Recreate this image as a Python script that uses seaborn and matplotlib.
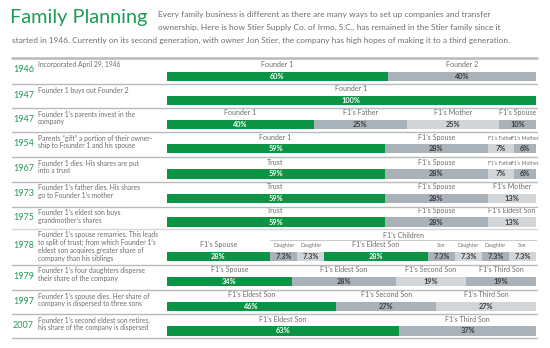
import matplotlib
matplotlib.use("Agg")
import matplotlib.pyplot as plt
import seaborn as sns
from matplotlib.lines import Line2D
from matplotlib.transforms import blended_transform_factory

# ---------------- data ----------------
years = ["1946", "1947", "1947", "1954", "1967", "1973", "1975", "1978", "1979", "1997", "2007"]
descriptions = [
    ["Incorporated April 29, 1946"],
    ["Founder 1 buys out Founder 2"],
    ["Founder 1’s parents invest in the", "company"],
    ["Parents “gift” a portion of their owner-", "ship to Founder 1 and his spouse"],
    ["Founder 1 dies. His shares are put", "into a trust"],
    ["Founder 1’s father dies. His shares", "go to Founder 1’s mother"],
    ["Founder 1’s eldest son buys", "grandmother’s shares"],
    ["Founder 1’s spouse remarries. This leads", "to split of trust; from which Founder 1’s",
     "eldest son acquires greater share of", "company than his siblings"],
    ["Founder 1’s four daughters disperse", "their share of the company"],
    ["Founder 1’s spouse dies. Her share of", "company is dispersed to three sons"],
    ["Founder 1’s second eldest son retires,", "his share of the company is dispersed"],
]
owners = [
    ["Founder 1", "Founder 2"],
    ["Founder 1"],
    ["Founder 1", "F1’s Father", "F1’s Mother", "F1’s Spouse"],
    ["Founder 1", "F1’s Spouse", "F1’s Father", "F1’s Mother"],
    ["Trust", "F1’s Spouse", "F1’s Father", "F1’s Mother"],
    ["Trust", "F1’s Spouse", "F1’s Mother"],
    ["Trust", "F1’s Spouse", "F1’s Eldest Son"],
    ["F1’s Spouse", "Daughter", "Daughter", "F1’s Eldest Son", "Son", "Daughter", "Daughter", "Son"],
    ["F1’s Spouse", "F1’s Eldest Son", "F1’s Second Son", "F1’s Third Son"],
    ["F1’s Eldest Son", "F1’s Second Son", "F1’s Third Son"],
    ["F1’s Eldest Son", "F1’s Third Son"],
]
shares = [
    [60, 40],
    [100],
    [40, 25, 25, 10],
    [59, 28, 7, 6],
    [59, 28, 7, 6],
    [59, 28, 13],
    [59, 28, 13],
    [28, 7.3, 7.3, 28, 7.3, 7.3, 7.3, 7.3],
    [34, 28, 19, 19],
    [46, 27, 27],
    [63, 37],
]
group_row, group_label, group_first = 7, "F1’s Children", 1

title = "Family Planning"
intro = [
    "Every family business is different as there are many ways to set up companies and transfer",
    "ownership. Here is how Stier Supply Co. of Irmo, S.C., has remained in the Stier family since it",
    "started in 1946. Currently on its second generation, with owner Jon Stier, the company has high hopes of making it to a third generation.",
]

# ---------------- styles ----------------
GREEN = "#0b9444"
DARK = "#a9b1b9"
LIGHT = "#d1d5d8"
TEXT = "#6d6e70"
PCT = "#3c3c3c"
SEP = "#b7b9bb"
tones = [
    "gd", "g", "gdld", "gdld", "gdld", "gdl", "gdl", "gdlgdldl", "gdld", "gdl", "gd",
]
tone_color = {"g": GREEN, "d": DARK, "l": LIGHT}

sns.set_theme(style="white")
plt.rcParams["font.family"] = ["Lato", "DejaVu Sans"]

W, H = 550, 348
fig = plt.figure(figsize=(W / 100, H / 100), dpi=100)
fig.patch.set_facecolor("white")

def fx(x):
    return x / W

def fy(y):
    return 1 - y / H

# layout (pixels from top)
row_tops = [58, 84, 108, 132, 157, 182, 207, 229, 264.5, 290, 314, 338]
bar_tops = [71.5, 95.5, 119.5, 144, 169, 193.5, 217.5, 251.5, 276.5, 301.5, 326]
bar_h = 9.5
bar_x0, bar_x1 = 166.5, 536

# header
fig.text(fx(10), fy(22.5), title, color="#1b9b53", fontsize=14.3, va="baseline", ha="left")
fig.text(fx(158), fy(15), intro[0], color=TEXT, fontsize=6.05, va="center", ha="left")
fig.text(fx(158), fy(27), intro[1], color=TEXT, fontsize=6.0, va="center", ha="left")
fig.text(fx(12), fy(40), intro[2], color=TEXT, fontsize=5.95, va="center", ha="left")

# separators
fig.add_artist(Line2D([fx(12), fx(537)], [fy(58), fy(58)], color=SEP, lw=1.8))
for j, yy in enumerate(row_tops[1:]):
    c = "#d4d6d8" if j == 6 else SEP
    fig.add_artist(Line2D([fx(12), fx(537)], [fy(yy), fy(yy)], color=c, lw=1.0))

for i in range(len(years)):
    top = row_tops[i]
    bottom = row_tops[i + 1]
    # year + description
    fig.text(fx(13), fy((top + bottom) / 2 - 1), years[i], color="#23995a",
             fontsize=6.5, va="center", ha="left")
    for k, line in enumerate(descriptions[i]):
        fig.text(fx(38), fy(top + 6 + 7.9 * k), line, color=TEXT, fontsize=4.9,
                 va="center", ha="left")

    # stacked bar
    ax = fig.add_axes([fx(bar_x0), fy(bar_tops[i] + bar_h), (bar_x1 - bar_x0) / W, bar_h / H])
    vals = shares[i]
    cum = []
    s = 0
    for v in vals:
        s += v
        cum.append(s)
    for k in reversed(range(len(vals))):
        sns.barplot(x=[cum[k]], y=["bar"], orient="h", color=tone_color[tones[i][k]],
                    saturation=1, width=1, errorbar=None, linewidth=0, ax=ax)
    ax.set_xlim(0, cum[-1])
    ax.set_ylim(0.5, -0.5)
    ax.axis("off")
    tr = blended_transform_factory(ax.transData, ax.transAxes)
    start = 0
    for k, v in enumerate(vals):
        mid = start + v / 2
        tone = tones[i][k]
        ax.text(mid, 0, f"{v:g}%", ha="center", va="center", fontsize=5.3,
                fontweight="bold", color="white" if tone == "g" else PCT)
        small = v < 8
        off = 6.0 if small else 6.8
        ax.text(mid, 1 + off / bar_h, owners[i][k], ha="center", va="center",
                fontsize=3.7 if small else 5.1, color=TEXT, transform=tr, clip_on=False)
        start += v
    if i == group_row:
        g0 = cum[group_first - 1]
        ax.text((g0 + cum[-1]) / 2, 1 + 16.5 / bar_h, group_label, ha="center", va="center",
                fontsize=5.1, color=TEXT, transform=tr, clip_on=False)
        ax.add_line(Line2D([g0, cum[-1]], [1 + 11.2 / bar_h] * 2, color="#c8cacc", lw=0.8,
                           transform=tr, clip_on=False))

fig.savefig("out.png", dpi=100, facecolor="white")
